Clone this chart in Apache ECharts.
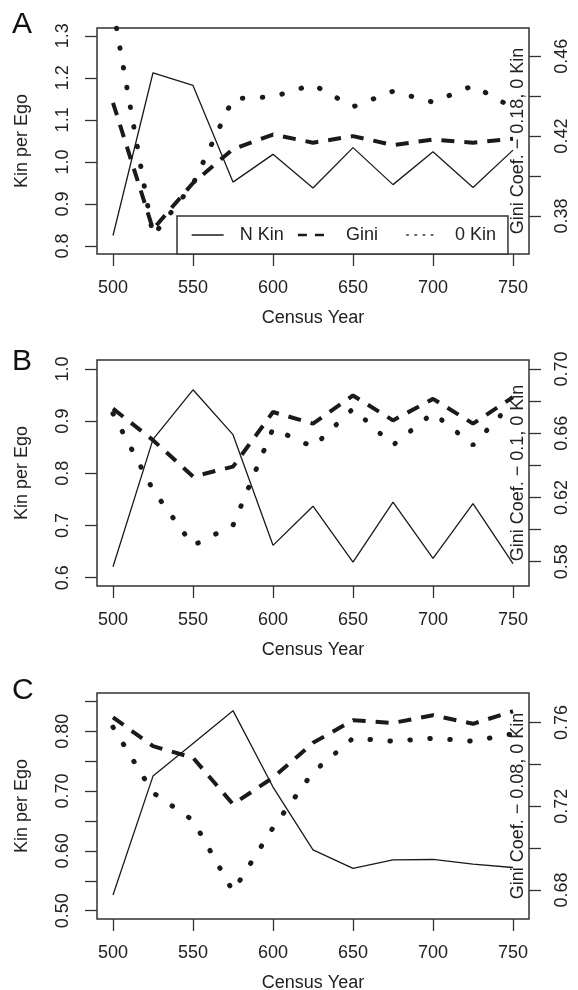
<!DOCTYPE html>
<html><head><meta charset="utf-8">
<script src="https://cdn.jsdelivr.net/npm/echarts@6/dist/echarts.min.js"></script>
<style>html,body{margin:0;padding:0;background:#fff;}#c{width:578px;height:990px;}</style>
</head><body><div id="c"></div>
<script>
// ---- data ----
const years = [500, 525, 550, 575, 600, 625, 650, 675, 700, 725, 750];
const xTicks = [500, 550, 600, 650, 700, 750];

// Panel A
const nKinA = [0.825, 1.212, 1.182, 0.952, 1.018, 0.938, 1.034, 0.946, 1.024, 0.939, 1.028];
const giniA = [0.4367, 0.3733, 0.3965, 0.4135, 0.4208, 0.4167, 0.4200, 0.4155, 0.4183, 0.4167, 0.4187];
const zeroA = [0.484, 0.370, 0.396, 0.4388, 0.4397, 0.4458, 0.4347, 0.4425, 0.4370, 0.4453, 0.4342];
// Panel B
const nKinB = [0.621, 0.865, 0.960, 0.874, 0.662, 0.737, 0.630, 0.745, 0.637, 0.742, 0.627];
const giniB = [0.6753, 0.6557, 0.6330, 0.6392, 0.6732, 0.6660, 0.6835, 0.6680, 0.6814, 0.6660, 0.6825];
const zeroB = [0.6722, 0.6247, 0.5901, 0.6027, 0.6629, 0.6515, 0.6753, 0.6526, 0.6726, 0.6526, 0.6794];
// Panel C
const nKinC = [0.5261, 0.7250, 0.7794, 0.8344, 0.7067, 0.6017, 0.5706, 0.5850, 0.5856, 0.5778, 0.5722];
const giniC = [0.7625, 0.7487, 0.7432, 0.7210, 0.7337, 0.7503, 0.7611, 0.7598, 0.7635, 0.7594, 0.7654];
const zeroC = [0.7578, 0.7265, 0.7133, 0.6794, 0.7098, 0.7363, 0.7525, 0.7511, 0.7525, 0.7511, 0.7546];

// tick values / labels
const leftTicksA = [0.8, 0.9, 1.0, 1.1, 1.2, 1.3];
const leftLabelsA = [0.8, 0.9, 1.0, 1.1, 1.2, 1.3];
const rightTicksA = [0.38, 0.40, 0.42, 0.44, 0.46];
const rightLabelsA = [0.38, 0.42, 0.46];
const leftTicksB = [0.6, 0.7, 0.8, 0.9, 1.0];
const leftLabelsB = [0.6, 0.7, 0.8, 0.9, 1.0];
const rightTicksB = [0.58, 0.60, 0.62, 0.64, 0.66, 0.68, 0.70];
const rightLabelsB = [0.58, 0.62, 0.66, 0.70];
const leftTicksC = [0.50, 0.55, 0.60, 0.65, 0.70, 0.75, 0.80, 0.85];
const leftLabelsC = [0.50, 0.60, 0.70, 0.80];
const rightTicksC = [0.68, 0.70, 0.72, 0.74, 0.76];
const rightLabelsC = [0.68, 0.72, 0.76];

const panelLetters = ['A', 'B', 'C'];
const rightTitles = ['Gini Coef. \u2212 0.18, 0 Kin', 'Gini Coef. \u2212 0.1, 0 Kin', 'Gini Coef. \u2212 0.08, 0 Kin'];
const seriesNames = ['N Kin', 'Gini', '0 Kin'];

// ---- layout / styling ----
const FONT = 'Liberation Sans, Arial, Helvetica, sans-serif';
const TXT = '#222';
const INK = '#1a1a1a';
const panels = [
  {top: 28, letterTop: 10, n: nKinA, g: giniA, z: zeroA, lMin: 0.781, lMax: 1.3185, rMin: 0.3609, rMax: 0.4742,
   lt: leftTicksA, ll: leftLabelsA, rt: rightTicksA, rl: rightLabelsA, ld: 1, rd: 2},
  {top: 360, letterTop: 347, n: nKinB, g: giniB, z: zeroB, lMin: 0.5841, lMax: 1.0171, rMin: 0.5649, rMax: 0.7056,
   lt: leftTicksB, ll: leftLabelsB, rt: rightTicksB, rl: rightLabelsB, ld: 1, rd: 2},
  {top: 693, letterTop: 676, n: nKinC, g: giniC, z: zeroC, lMin: 0.4861, lMax: 0.8639, rMin: 0.6662, rMax: 0.7741,
   lt: leftTicksC, ll: leftLabelsC, rt: rightTicksC, rl: rightLabelsC, ld: 2, rd: 2}
];
const H = 226;

const titles = [], grids = [], xAxes = [], yAxes = [], series = [];
const tickStyle = {color: '#333', width: 1.3};
const labelBase = {fontSize: 18, color: TXT, fontFamily: FONT};

panels.forEach((p, i) => {
  titles.push({text: panelLetters[i], left: 12, top: p.letterTop, padding: 0,
    textStyle: {fontSize: 30, fontWeight: 'normal', color: '#111', fontFamily: FONT}});
  grids.push({left: 97, width: 432, top: p.top, height: H, show: true, containLabel: false,
    outerBoundsMode: 'none',
    borderColor: '#333', borderWidth: 1.5, backgroundColor: 'transparent'});
  xAxes.push({gridIndex: i, type: 'value', min: 490, max: 760,
    axisLine: {show: false}, splitLine: {show: false},
    axisTick: {show: true, length: 12, customValues: xTicks, lineStyle: tickStyle},
    axisLabel: Object.assign({customValues: xTicks, margin: 25}, labelBase),
    name: 'Census Year', nameLocation: 'middle', nameGap: 55,
    nameTextStyle: {fontSize: 18, color: TXT, fontFamily: FONT}});
  yAxes.push({gridIndex: i, type: 'value', position: 'left', min: p.lMin, max: p.lMax,
    axisLine: {show: false}, splitLine: {show: false},
    axisTick: {show: true, length: 12, customValues: p.lt, lineStyle: tickStyle},
    axisLabel: Object.assign({customValues: p.ll, rotate: 90, margin: 25,
      formatter: v => Number(v).toFixed(p.ld)}, labelBase),
    name: 'Kin per Ego', nameLocation: 'middle', nameGap: 66,
    nameTextStyle: {fontSize: 18, color: TXT, fontFamily: FONT}});
  yAxes.push({gridIndex: i, type: 'value', position: 'right', min: p.rMin, max: p.rMax,
    axisLine: {show: false}, splitLine: {show: false},
    axisTick: {show: true, length: 12, customValues: p.rt, lineStyle: tickStyle},
    axisLabel: Object.assign({customValues: p.rl, rotate: 90, margin: 24,
      formatter: v => Number(v).toFixed(p.rd)}, labelBase),
    name: rightTitles[i], nameLocation: 'middle', nameGap: -20, nameMoveOverlap: false,
    nameTextStyle: {fontSize: 18, color: TXT, fontFamily: FONT}});
  const pair = arr => years.map((y, k) => [y, arr[k]]);
  series.push({type: 'line', name: seriesNames[0], xAxisIndex: i, yAxisIndex: 2 * i, data: pair(p.n),
    symbol: 'none', color: INK, lineStyle: {color: INK, width: 1.3}, z: 3});
  series.push({type: 'line', name: seriesNames[1], xAxisIndex: i, yAxisIndex: 2 * i + 1, data: pair(p.g),
    symbol: 'none', color: INK, lineStyle: {color: INK, width: 4, type: [13, 10], cap: 'butt'}, z: 3});
  series.push({type: 'line', name: seriesNames[2], xAxisIndex: i, yAxisIndex: 2 * i + 1, data: pair(p.z),
    symbol: 'none', color: INK, lineStyle: {color: INK, width: 5, type: [0.5, 19.5], cap: 'round'}, z: 3});
});

const chart = echarts.init(document.getElementById('c'), null, {renderer: 'canvas'});
chart.setOption({
  animation: false,
  backgroundColor: '#fff',
  textStyle: {fontFamily: FONT},
  title: titles,
  grid: grids,
  xAxis: xAxes,
  yAxis: yAxes,
  legend: {
    left: 177, top: 216, orient: 'horizontal', selectedMode: false,
    data: [
      {name: 'N Kin', lineStyle: {width: 1.3, type: 'solid', color: INK}},
      {name: 'Gini', lineStyle: {width: 2.5, type: [9, 8], color: INK}},
      {name: '0 Kin', lineStyle: {width: 2, type: [1.2, 7], cap: 'round', color: '#666'}}
    ],
    formatter: name => (name === 'Gini' ? name + '   ' : name),
    itemStyle: {opacity: 0},
    itemWidth: 32, itemHeight: 14, itemGap: 13,
    padding: [10, 12, 10, 14],
    backgroundColor: '#fff', borderColor: '#333', borderWidth: 1.5, borderRadius: 0,
    textStyle: {fontSize: 18, color: TXT, fontFamily: FONT, padding: [0, 0, 0, 11]},
    z: 10
  },
  series: series
});
</script>
</body></html>
